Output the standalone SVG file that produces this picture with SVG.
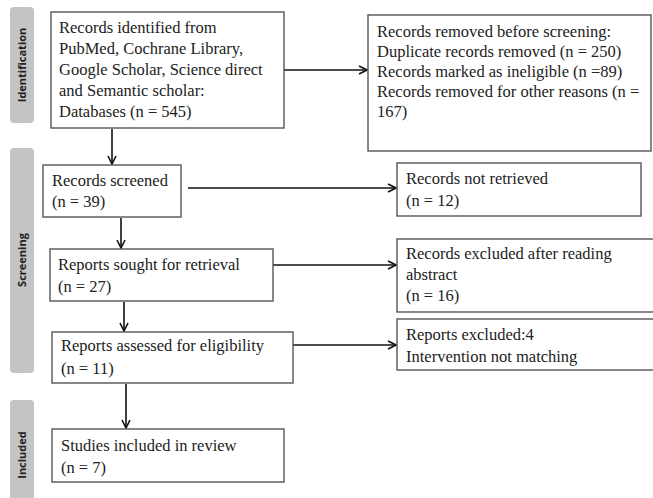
<svg xmlns="http://www.w3.org/2000/svg" width="653" height="498" viewBox="0 0 653 498">
<style>
.box{fill:#fff;stroke:#555;stroke-width:1.4}
.t{font-family:"Liberation Serif","Times New Roman",serif;font-size:16.5px;fill:#222}
.side{fill:#c4c4c4}
.st{font-family:"Open Sans","DejaVu Sans",sans-serif;font-size:11px;font-weight:bold;fill:#222}
.c{stroke:#111;stroke-width:1.6;fill:none}
</style>
<defs>
<marker id="ah" viewBox="0 0 10 10" refX="9" refY="5" markerWidth="10" markerHeight="10" markerUnits="userSpaceOnUse" orient="auto">
<path d="M1,1 L9,5 L1,9" fill="none" stroke="#111" stroke-width="1.6"/>
</marker>
</defs>
<rect width="653" height="498" fill="#fff"/>
<g id="phases">
<g id="phase-identification"><rect class="side" x="10" y="7" width="24" height="116" rx="4"/><text class="st" transform="translate(26,65) rotate(-90)" text-anchor="middle">Identification</text></g>
<g id="phase-screening"><rect class="side" x="10" y="148" width="24" height="225" rx="4"/><text class="st" transform="translate(26,260) rotate(-90)" text-anchor="middle">Screening</text></g>
<g id="phase-included"><rect class="side" x="10" y="400" width="24" height="106" rx="4"/><text class="st" transform="translate(26,455) rotate(-90)" text-anchor="middle">Included</text></g>
</g>
<g id="connectors">
<line class="c" x1="284" y1="70" x2="367" y2="70" marker-end="url(#ah)"/>
<line class="c" x1="112" y1="129" x2="112" y2="164" marker-end="url(#ah)"/>
<line class="c" x1="188" y1="188" x2="396" y2="188" marker-end="url(#ah)"/>
<line class="c" x1="121" y1="218" x2="121" y2="248" marker-end="url(#ah)"/>
<line class="c" x1="273" y1="265" x2="396" y2="265" marker-end="url(#ah)"/>
<line class="c" x1="124" y1="302" x2="124" y2="331" marker-end="url(#ah)"/>
<line class="c" x1="280" y1="345" x2="396" y2="345" marker-end="url(#ah)"/>
<line class="c" x1="126" y1="384" x2="126" y2="428" marker-end="url(#ah)"/>
</g>
<g id="n-identified"><rect class="box" x="51" y="12" width="233" height="116"/>
<text class="t" x="59" y="33">Records identified from</text>
<text class="t" x="59" y="54">PubMed, Cochrane Library,</text>
<text class="t" x="59" y="75">Google Scholar, Science direct</text>
<text class="t" x="59" y="96">and Semantic scholar:</text>
<text class="t" x="59" y="117">Databases (n = 545)</text></g>
<g id="n-removed"><rect class="box" x="368" y="15" width="283" height="136"/>
<text class="t" x="377" y="37">Records removed before screening:</text>
<text class="t" x="377" y="57">Duplicate records removed (n = 250)</text>
<text class="t" x="377" y="77">Records marked as ineligible (n =89)</text>
<text class="t" x="377" y="97">Records removed for other reasons (n =</text>
<text class="t" x="377" y="117">167)</text></g>
<g id="n-screened"><rect class="box" x="43" y="165" width="138" height="52"/>
<text class="t" x="52" y="186">Records screened</text>
<text class="t" x="52" y="207">(n = 39)</text></g>
<g id="n-notretrieved"><rect class="box" x="397" y="163" width="244" height="53"/>
<text class="t" x="406" y="184">Records not retrieved</text>
<text class="t" x="406" y="206">(n = 12)</text></g>
<g id="n-sought"><rect class="box" x="50" y="249" width="223" height="52"/>
<text class="t" x="58" y="270">Reports sought for retrieval</text>
<text class="t" x="58" y="292">(n = 27)</text></g>
<g id="n-excluded-abstract"><rect class="box" x="397" y="239" width="265" height="73"/>
<text class="t" x="406" y="259">Records excluded after reading</text>
<text class="t" x="406" y="280">abstract</text>
<text class="t" x="406" y="301">(n = 16)</text></g>
<g id="n-assessed"><rect class="box" x="52" y="332" width="241" height="51"/>
<text class="t" x="61" y="351">Reports assessed for eligibility</text>
<text class="t" x="61" y="374">(n = 11)</text></g>
<g id="n-excluded-reports"><rect class="box" x="397" y="319" width="265" height="51"/>
<text class="t" x="406" y="340">Reports excluded:4</text>
<text class="t" x="406" y="362">Intervention not matching</text></g>
<g id="n-included"><rect class="box" x="52" y="429" width="232" height="53"/>
<text class="t" x="61" y="451">Studies included in review</text>
<text class="t" x="61" y="473">(n = 7)</text></g>
</svg>
